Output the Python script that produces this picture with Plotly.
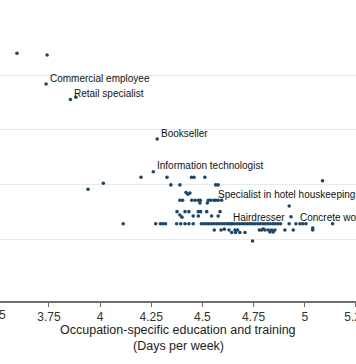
import plotly.graph_objects as go

# Unlabelled occupations: x = occupation-specific education and training (days per week)
other_x = [3.594, 3.741, 3.882, 3.941, 4.016, 4.200, 4.327, 4.113, 4.272, 4.295,
           4.307, 4.320, 4.346, 4.374, 4.394, 4.376, 4.390, 4.400, 4.390, 4.390,
           4.403, 4.415, 4.434, 4.415, 4.434, 4.455, 4.420, 4.429, 4.439, 4.447,
           4.459, 4.512, 4.448, 4.464, 4.480, 4.490, 4.455, 4.480, 4.491, 4.480,
           4.488, 4.521, 4.524, 4.529, 4.540, 4.565, 4.577, 4.594, 4.565, 4.577,
           4.545, 4.577, 4.586,
           4.495, 4.507, 4.520, 4.532, 4.545, 4.557, 4.570, 4.582, 4.595, 4.607,
           4.620, 4.641, 4.645, 4.657, 4.670, 4.682, 4.695, 4.707, 4.720, 4.732,
           4.745, 4.757, 4.770, 4.782, 4.795, 4.807, 4.820, 4.832, 4.845, 4.857,
           4.870, 4.882,
           4.558, 4.591, 4.607, 4.630, 4.643, 4.659, 4.662, 4.672, 4.683, 4.708,
           4.745, 4.778, 4.789, 4.797, 4.806, 4.822, 4.830, 4.838, 4.846, 4.854,
           4.903, 4.944, 5.039, 5.039, 4.924, 4.933, 4.924, 4.977, 4.991, 5.006,
           5.136, 5.087]
other_y = [4.397, 4.366, 3.592, 1.909, 2.019, 2.129, 2.129, 1.28, 1.28, 1.28,
           1.28, 1.28, 1.99, 1.28, 1.28, 1.50, 1.44, 1.40, 1.99, 1.71,
           1.71, 1.50, 1.50, 1.28, 1.28, 1.28, 1.85, 1.82, 1.84, 2.13,
           2.13, 2.13, 1.71, 1.71, 1.71, 1.71, 1.42, 1.50, 1.50, 1.42,
           1.66, 1.50, 1.66, 1.71, 1.71, 1.71, 1.71, 1.71, 1.99, 1.99,
           1.42, 1.42, 1.50,
           1.28, 1.28, 1.28, 1.28, 1.28, 1.28, 1.28, 1.28, 1.28, 1.28,
           1.28, 1.28, 1.28, 1.28, 1.28, 1.28, 1.28, 1.28, 1.28, 1.28,
           1.28, 1.28, 1.28, 1.28, 1.28, 1.28, 1.28, 1.28, 1.28, 1.28,
           1.28, 1.28,
           1.165, 1.165, 1.18, 1.165, 1.12, 1.165, 1.12, 1.165, 1.12, 1.12,
           0.963, 1.165, 1.165, 1.18, 1.165, 1.165, 1.13, 1.165, 1.13, 1.165,
           1.165, 1.165, 1.165, 1.20, 1.604, 1.408, 1.28, 1.28, 1.28, 1.28,
           1.28, 2.066]

# Labelled occupations
label_names = ["Commercial employee", "Retail specialist", "Bookseller",
               "Information technologist", "Specialist in hotel houskeeping",
               "Hairdresser", "Concrete worker"]
label_x = [3.736, 3.855, 4.279, 4.260, 4.556, 4.630, 4.957]
label_y = [3.835, 3.552, 2.829, 2.231, 1.71, 1.28, 1.28]

x_ticks = [3.5, 3.75, 4, 4.25, 4.5, 4.75, 5, 5.25]
x_tick_text = ["3.5", "3.75", "4", "4.25", "4.5", "4.75", "5", "5.25"]
x_title = ["Occupation-specific education and training", "(Days per week)"]
y_grid = [1, 2, 3, 4]
x_range = [3.511, 5.2505]
y_range = [-0.134, 5.372]

NAVY = "#1a476f"
FONT = "Liberation Sans, Arial, sans-serif"

fig = go.Figure()
fig.add_trace(go.Scatter(x=other_x + label_x, y=other_y + label_y, mode="markers",
                         marker=dict(color=NAVY, size=3.6, line=dict(width=0)),
                         hoverinfo="skip", showlegend=False))

for name, lx, ly in zip(label_names, label_x, label_y):
    fig.add_annotation(x=lx, y=ly, xref="x", yref="y", text=name, showarrow=False,
                       xanchor="left", yanchor="middle", xshift=2, yshift=6,
                       font=dict(family=FONT, size=10, color="#111111"))

# partially visible first tick label (3.5) just left of the plotting area
fig.add_annotation(x=(x_ticks[0] - x_range[0]) / (x_range[1] - x_range[0]), y=0,
                   xref="paper", yref="paper", text=x_tick_text[0], showarrow=False,
                   xanchor="center", yanchor="top", yshift=-5,
                   font=dict(family=FONT, size=12, color="#333333"))

# x-axis title, two lines
fig.add_annotation(x=0.5, y=0, xref="paper", yref="paper", text=x_title[0],
                   showarrow=False, xanchor="center", yanchor="middle", yshift=-29,
                   font=dict(family=FONT, size=12.5, color="#222222"))
fig.add_annotation(x=0.5, y=0, xref="paper", yref="paper", text=x_title[1],
                   showarrow=False, xanchor="center", yanchor="middle", yshift=-44.5,
                   font=dict(family=FONT, size=12.5, color="#222222"))

fig.update_layout(
    width=356, height=364,
    margin=dict(l=0, r=0, t=0, b=63, autoexpand=False),
    paper_bgcolor="white", plot_bgcolor="white",
    font=dict(family=FONT, size=12, color="#222222"),
    xaxis=dict(range=x_range, tickvals=x_ticks, ticktext=x_tick_text, automargin=False,
               ticklabeloverflow="allow",
               showgrid=False, zeroline=False, showline=True, linecolor="#6e6e6e",
               linewidth=1.5, ticks="outside", ticklen=4, tickcolor="#6e6e6e",
               tickfont=dict(size=12, color="#333333")),
    yaxis=dict(range=y_range, tickvals=y_grid, showticklabels=False, showgrid=True,
               automargin=False,
               gridcolor="#e9e9e9", gridwidth=1, zeroline=False, showline=False),
)

fig.write_html("out.html", config={"displayModeBar": False},
               post_script="document.body.style.margin='0';")
